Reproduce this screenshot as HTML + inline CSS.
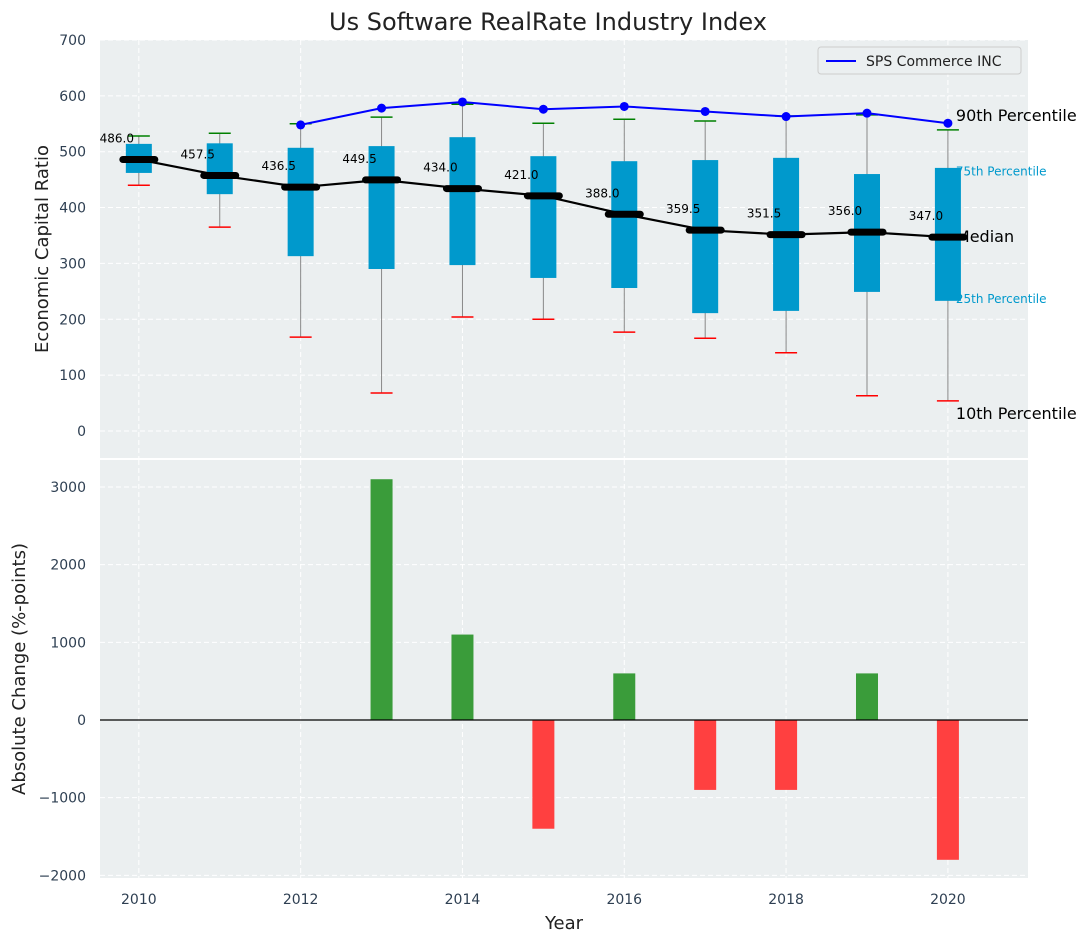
<!DOCTYPE html>
<html><head><meta charset="utf-8"><style>
body{margin:0;background:#fff;font-family:"Liberation Sans","DejaVu Sans",sans-serif}
svg text{font-family:"DejaVu Sans","Liberation Sans",sans-serif}
</style></head><body>
<svg id="c" width="1092" height="942" xmlns="http://www.w3.org/2000/svg"></svg>
<script>
const years=[2010,2011,2012,2013,2014,2015,2016,2017,2018,2019,2020];
const p10=[440,365,168,68,204,200,177,166,140,63,54];
const p25=[462,424,313,290,297,274,256,211,215,249,233];
const medians=[486.0,457.5,436.5,449.5,434.0,421.0,388.0,359.5,351.5,356.0,347.0];
const p75=[514,515,507,510,526,492,483,485,489,460,471];
const p90=[528,533,550,562,585,551,558,555,564,566,539];
const spsYears=[2012,2013,2014,2015,2016,2017,2018,2019,2020];
const spsValues=[548,578,589,576,581,572,563,569,551];
const changes=[null,null,null,3100,1100,-1400,600,-900,-900,600,-1800];
const topTicks=[0,100,200,300,400,500,600,700];
const botTicks=[-2000,-1000,0,1000,2000,3000];
const xTicks=[2010,2012,2014,2016,2018,2020];

const NS="http://www.w3.org/2000/svg";
const svg=document.getElementById('c');
function el(t,a,txt){const e=document.createElementNS(NS,t);for(const k in a)e.setAttribute(k,a[k]);if(txt!==undefined)e.textContent=txt;svg.appendChild(e);return e;}
const L=100,R=1028;
const x=v=>L+(v-2009.52)/(2020.99-2009.52)*(R-L);
const yT=v=>431-v*0.5586;
const yB=v=>720-v*0.07767;

let e=el('text',{x:548,y:30,'text-anchor':'middle','font-size':24,fill:'#222'},'Us Software RealRate Industry Index');

e=el('rect',{x:L,y:40,width:R-L,height:418,fill:'#ebeff0'});

e=el('rect',{x:L,y:460,width:R-L,height:418,fill:'#ebeff0'});

xTicks.forEach(t=>{
 [[40,458],[460,878]].forEach(r=>{e=el('line',{x1:x(t),x2:x(t),y1:r[0],y2:r[1],stroke:'#fff','stroke-dasharray':'5,3'});});
 e=el('text',{x:x(t),y:904,'text-anchor':'middle','font-size':14,fill:'#2e3f52'},t);
 
});
topTicks.forEach(t=>{
 e=el('line',{x1:L,x2:R,y1:yT(t),y2:yT(t),stroke:'#fff','stroke-dasharray':'5,3'});
 e=el('text',{x:86,y:yT(t)+5,'text-anchor':'end','font-size':14,fill:'#2e3f52'},t);
 
});
botTicks.forEach(t=>{
 e=el('line',{x1:L,x2:R,y1:yB(t),y2:yB(t),stroke:'#fff','stroke-dasharray':'5,3'});
 e=el('text',{x:86,y:yB(t)+5,'text-anchor':'end','font-size':14,fill:'#2e3f52'},t<0?'\u2212'+(-t):t);
 
});
const li=years.length-1, lx=x(years[li]);
// right labels (drawn beneath boxes)
[['90th Percentile',p90[li]+25,16,'#000'],['75th Percentile',p75[li]-5,12,'#0099cc'],['Median',medians[li],16,'#000'],['25th Percentile',p25[li]+5,12,'#0099cc'],['10th Percentile',p10[li]-24,16,'#000']].forEach(a=>{
 e=el('text',{x:lx+8,y:yT(a[1])+5,'font-size':a[2],fill:a[3]},a[0]);
});
years.forEach((yr,i)=>{
 const cx=x(yr);
 e=el('line',{x1:cx,x2:cx,y1:yT(p10[i]),y2:yT(p90[i]),stroke:'#888','stroke-width':1});
 e=el('rect',{x:cx-13,y:yT(p75[i]),width:26,height:yT(p25[i])-yT(p75[i]),fill:'#0099cc'});
 e=el('line',{x1:cx-11,x2:cx+11,y1:yT(p90[i]),y2:yT(p90[i]),stroke:'green','stroke-width':1.5});
 e=el('line',{x1:cx-11,x2:cx+11,y1:yT(p10[i]),y2:yT(p10[i]),stroke:'red','stroke-width':1.5});
});
e=el('polyline',{points:years.map((y,i)=>x(y)+','+yT(medians[i])).join(' '),fill:'none',stroke:'#000','stroke-width':2.2});

years.forEach((yr,i)=>{
 const cx=x(yr);
 e=el('line',{x1:cx-16,x2:cx+16,y1:yT(medians[i]),y2:yT(medians[i]),stroke:'#000','stroke-width':7,'stroke-linecap':'round'});
});
e=el('polyline',{points:spsYears.map((y,i)=>x(y)+','+yT(spsValues[i])).join(' '),fill:'none',stroke:'blue','stroke-width':2});

spsYears.forEach((y,i)=>{e=el('circle',{cx:x(y),cy:yT(spsValues[i]),r:4.5,fill:'blue'});});
years.forEach((yr,i)=>{
 e=el('text',{x:x(yr)-22,y:yT(medians[i])-17,'text-anchor':'middle','font-size':12,fill:'#000'},medians[i].toFixed(1));
 
});
e=el('rect',{x:818,y:47,width:203,height:27,fill:'#ebeff0',stroke:'#ccc',rx:3});
e=el('line',{x1:826,x2:856,y1:61,y2:61,stroke:'blue','stroke-width':2});
e=el('text',{x:866,y:66,'font-size':14,fill:'#222'},'SPS Commerce INC');
years.forEach((yr,i)=>{
 if(changes[i]===null)return;
 const v=changes[i];
 e=el('rect',{x:x(yr)-11,y:Math.min(yB(v),yB(0)),width:22,height:Math.abs(yB(v)-yB(0)),fill:v>=0?'#3a9c3a':'#ff4040'});
 
});
e=el('line',{x1:L,x2:R,y1:yB(0),y2:yB(0),stroke:'#000','stroke-width':1.2});
e=el('text',{x:48,y:249,'text-anchor':'middle','font-size':18,fill:'#222',transform:'rotate(-90 48 249)'},'Economic Capital Ratio');
e=el('text',{x:25,y:669,'text-anchor':'middle','font-size':18,fill:'#222',transform:'rotate(-90 25 669)'},'Absolute Change (%-points)');
e=el('text',{x:564,y:929,'text-anchor':'middle','font-size':18,fill:'#222'},'Year');
</script>
</body></html>
